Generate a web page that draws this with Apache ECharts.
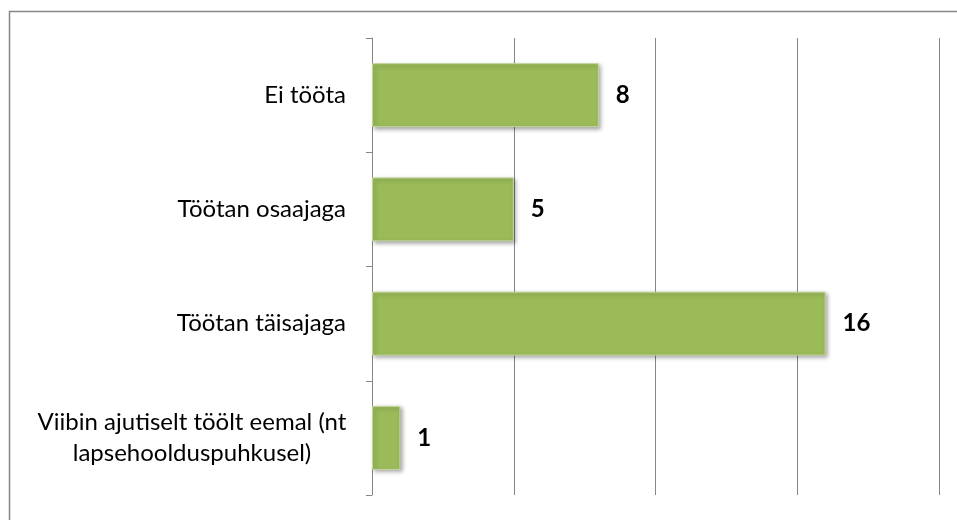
<!DOCTYPE html>
<html>
<head>
<meta charset="utf-8">
<script src="https://cdn.jsdelivr.net/npm/echarts@6/dist/echarts.min.js"></script>
<style>
  html, body { margin: 0; padding: 0; background: #ffffff; }
  #chart { width: 957px; height: 520px; }
</style>
</head>
<body>
<div id="chart"></div>
<script>
const categories = [
  'Ei tööta',
  'Töötan osaajaga',
  'Töötan täisajaga',
  'Viibin ajutiselt töölt eemal (nt\nlapsehoolduspuhkusel)',
]
const values = [8, 5, 16, 1]
const xMin = 0
const xMax = 20
const xStep = 5

// the wrapped label is centred on itself, the others sit flush right
const yData = categories.map(c => c.includes('\n')
  ? { value: c, textStyle: { align: 'center', padding: [0, 308, 0, 0], lineHeight: 31 } }
  : c)

const chart = echarts.init(document.getElementById('chart'), null, { renderer: 'canvas' })

chart.setOption({
  backgroundColor: '#ffffff',
  animation: false,
  graphic: [{
    type: 'rect',
    left: 7, top: 9,
    shape: { width: 1000, height: 600 },
    style: { fill: 'none', stroke: '#868686', lineWidth: 1.5 },
    silent: true,
  }],
  grid: { left: 372, right: 18, top: 38, bottom: 25, containLabel: false },
  xAxis: {
    type: 'value',
    min: xMin,
    max: xMax,
    interval: xStep,
    axisLine: { show: false },
    axisTick: { show: false },
    axisLabel: { show: false },
    splitLine: { show: true, lineStyle: { color: '#868686', width: 1 } },
  },
  yAxis: {
    type: 'category',
    inverse: true,
    data: yData,
    axisLine: { show: true, lineStyle: { color: '#868686', width: 1 } },
    axisTick: { show: true, length: 6, lineStyle: { color: '#868686' } },
    axisLabel: {
      margin: 26,
      fontFamily: 'Lato',
      fontSize: 24,
      color: '#000000',
    },
  },
  series: [{
    type: 'bar',
    data: values,
    barWidth: '56%',
    itemStyle: {
      color: '#9BBB59',
      borderColor: '#c3d69b',
      borderWidth: 1,
      shadowColor: 'rgba(0,0,0,0.35)',
      shadowBlur: 4,
      shadowOffsetX: 2,
      shadowOffsetY: 2,
    },
    label: {
      show: true,
      position: 'right',
      distance: 17,
      fontFamily: 'Lato',
      fontWeight: 'bold',
      fontSize: 24,
      color: '#000000',
    },
  }],
})
</script>
</body>
</html>
